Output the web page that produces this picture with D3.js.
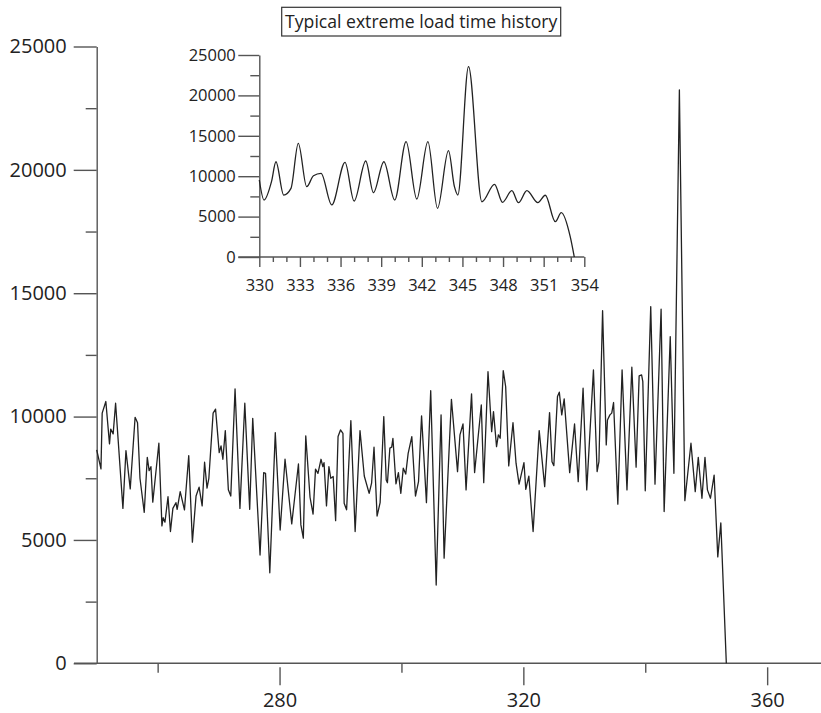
<!DOCTYPE html>
<html lang='en'>
<head>
  <meta charset='UTF-8'>
  <title>Typical extreme load time history</title>
  <style>
  body {
    margin: 0;
    background: #fff;
  }
  svg {
    display: block;
  }
  .axis {
    font-family: 'Open Sans', sans-serif;
  }
  .axis path, .axis line, .baseline {
    stroke: #555;
    stroke-width: 1.4px;
  }
  .axis text {
    fill: #222;
  }
  .main.axis text {
    font-size: 20px;
  }
  .inset.axis text {
    font-size: 16.5px;
  }
  .load {
    fill: none;
    stroke: #222;
    stroke-width: 1.3px;
    stroke-linejoin: round;
  }
  .title-box {
    fill: #fff;
    stroke: #333;
    stroke-width: 1.2px;
  }
  .title {
    font-family: 'Open Sans', sans-serif;
    font-size: 17.6px;
    fill: #222;
  }
  </style>
  <script src='https://d3js.org/d3.v7.min.js'></script>
</head>
<body>
  <script>

  // main time history (time, load)
  var mainTime = [
    250.0, 250.7, 250.9, 251.5, 252.1, 252.3, 252.7, 253.1, 254.3, 254.8,
    255.5, 256.3, 256.7, 257.1, 257.8, 258.3, 258.6, 258.9, 259.2, 260.2,
    260.7, 260.9, 261.2, 261.7, 262.1, 262.5, 263.0, 263.2, 263.7, 264.4,
    265.1, 265.7, 266.3, 266.8, 267.3, 267.7, 268.1, 268.4, 269.1, 269.5,
    270.1, 270.4, 270.7, 271.1, 271.6, 272.0, 272.7, 273.5, 274.3, 275.1,
    275.6, 276.8, 277.4, 277.7, 278.4, 279.3, 280.1, 280.9, 282.0, 283.1,
    283.5, 283.9, 284.3, 285.0, 285.5, 285.9, 286.3, 286.8, 287.1, 287.3,
    287.7, 288.1, 288.4, 288.8, 289.2, 289.6, 290.0, 290.4, 290.6, 291.0,
    291.7, 292.4, 293.2, 293.9, 294.7, 295.1, 295.5, 296.0, 296.5, 297.1,
    297.5, 297.7, 298.1, 298.4, 298.6, 299.1, 299.5, 299.9, 300.3, 300.7,
    301.1, 301.7, 302.3, 302.8, 303.3, 304.1, 304.8, 305.7, 306.5, 307.0,
    308.2, 309.2, 309.6, 310.1, 310.6, 311.5, 312.0, 313.1, 313.5, 314.2,
    314.8, 315.1, 315.6, 315.9, 316.2, 316.7, 317.1, 317.6, 318.3, 318.8,
    319.3, 320.1, 320.4, 320.9, 321.6, 322.6, 323.5, 324.3, 324.7, 325.0,
    325.6, 325.9, 326.3, 326.7, 327.6, 328.4, 329.0, 329.8, 330.4, 331.5,
    332.1, 332.4, 333.0, 333.6, 333.8, 334.2, 334.5, 334.8, 335.5, 336.2,
    337.0, 337.8, 338.5, 339.0, 339.4, 339.6, 340.0, 340.9, 341.6, 342.6,
    343.1, 344.1, 344.7, 345.6, 346.5, 347.5, 348.2, 348.7, 349.3, 349.8,
    350.2, 350.7, 351.3, 351.9, 352.4, 353.3
  ];
  var mainLoad = [
    8650, 7880, 10140, 10610, 8890, 9490, 9300, 10540, 6280, 8620,
    7070, 9970, 9750, 7500, 6120, 8350, 7810, 7970, 6530, 8920,
    5570, 5900, 5720, 6750, 5340, 6280, 6510, 6240, 6960, 6220,
    8420, 4910, 6780, 7140, 6380, 8150, 7100, 7500, 10140, 10300,
    8540, 8810, 8270, 9430, 7030, 6780, 11120, 6280, 10540, 6240,
    9930, 4390, 7730, 7700, 3670, 9350, 5400, 8270, 5650, 8080,
    5610, 5070, 9220, 6730, 6050, 7870, 7700, 8270, 7970, 8130,
    6380, 7970, 7500, 7570, 5780, 9190, 9460, 9320, 6490, 6220,
    9840, 5340, 9430, 7590, 6890, 7300, 8760, 5970, 6510, 10000,
    7430, 7320, 8720, 8760, 9120, 7270, 7730, 6890, 7910, 7670,
    8510, 9190, 6780, 7360, 10030, 6510, 11050, 3170, 10070, 4260,
    10700, 7770, 9260, 9700, 7030, 10920, 7730, 10470, 7320, 11820,
    9390, 10200, 8780, 9260, 9120, 11860, 11210, 8000, 9750, 8110,
    7260, 8130, 7050, 7590, 5340, 9430, 7160, 10160, 8170, 8010,
    10810, 10990, 10070, 10720, 7730, 9700, 7360, 11150, 7030, 11890,
    7770, 8170, 14290, 8850, 9860, 10070, 10140, 10570, 6450, 11890,
    7030, 12000, 7950, 11650, 11690, 11420, 6990, 14460, 7260, 14350,
    6150, 13240, 7700, 23240, 6590, 8920, 6960, 8350, 6690, 8350,
    7030, 6690, 7630, 4310, 5690, 0
  ];

  // inset: close-up of the end of the record
  var insetTime = [
    330.0, 330.35, 330.9, 331.23, 331.8, 332.34, 332.88, 333.5, 334.0, 334.56,
    335.35, 336.33, 337.0, 337.86, 338.43, 339.2, 340.0, 340.84, 341.63, 342.45,
    343.16, 343.97, 344.41, 344.66, 345.45, 346.44, 347.37, 347.96, 348.65, 349.14,
    349.76, 350.57, 351.12, 351.86, 352.3, 352.96, 353.26
  ];
  var insetLoad = [
    9530, 7050, 9320, 11790, 7670, 8500, 14070, 8700, 10060, 10360,
    6440, 11720, 6930, 11880, 7960, 11790, 7050, 14270, 7180, 14270,
    6030, 13160, 8700, 7670, 23550, 6840, 9000, 6770, 8210, 6720,
    8210, 6720, 7640, 4370, 5480, 2510, 0
  ];

  var mainXTicks = [280, 320, 360];
  var mainXMinor = [260, 300, 340];
  var loadTicks = [0, 5000, 10000, 15000, 20000, 25000];
  var loadMinor = [2500, 7500, 12500, 17500, 22500];
  var insetXTicks = [330, 333, 336, 339, 342, 345, 348, 351, 354];
  var insetXMinor = [331, 332, 334, 335, 337, 338, 340, 341, 343, 344, 346, 347, 349, 350, 352, 353];
  var insetTitle = 'Typical extreme load time history';

  var fmt = d3.format('d');

  var svg = d3.select('body').append('svg').attr('width', 821).attr('height', 713);

  // ---- main chart ----

  var x = d3.scaleLinear().domain([250, 370]).range([96.7, 828.1]);
  var y = d3.scaleLinear().domain([0, 25000]).range([663.3, 46.5]);

  svg.append('line')
    .attr('class', 'baseline')
    .attr('x1', 74).attr('x2', 821)
    .attr('y1', y(0)).attr('y2', y(0));

  var gx = svg.append('g')
    .attr('class', 'main axis')
    .attr('transform', 'translate(0,' + y(0) + ')')
    .call(d3.axisBottom(x).tickValues(mainXTicks).tickFormat(fmt).tickSize(22).tickSizeOuter(0));
  gx.select('.domain').remove();
  gx.selectAll('.tick line').attr('y1', 4);
  gx.selectAll('.tick text').attr('y', 43.3).attr('dy', null);

  var gxm = svg.append('g')
    .attr('class', 'main axis')
    .attr('transform', 'translate(0,' + y(0) + ')')
    .call(d3.axisBottom(x).tickValues(mainXMinor).tickSize(9.4).tickFormat(''));
  gxm.select('.domain').remove();

  svg.append('g')
    .attr('class', 'main axis')
    .attr('transform', 'translate(' + x(250) + ',0)')
    .call(d3.axisLeft(y).tickValues(loadTicks).tickFormat(fmt).tickSize(23).tickPadding(7).tickSizeOuter(0));

  var gym = svg.append('g')
    .attr('class', 'main axis')
    .attr('transform', 'translate(' + x(250) + ',0)')
    .call(d3.axisLeft(y).tickValues(loadMinor).tickSize(11).tickFormat(''));
  gym.select('.domain').remove();

  var mainLine = d3.line()
    .x(function (d, i) { return x(mainTime[i]); })
    .y(function (d) { return y(d); });

  svg.append('path').datum(mainLoad).attr('class', 'load').attr('d', mainLine);

  // ---- inset ----

  var xi = d3.scaleLinear().domain([330, 354]).range([259.3, 584.3]);
  var yi = d3.scaleLinear().domain([0, 25000]).range([257, 55]);

  svg.append('line')
    .attr('class', 'baseline')
    .attr('x1', 238.3).attr('x2', xi(354))
    .attr('y1', yi(0)).attr('y2', yi(0));

  var gix = svg.append('g')
    .attr('class', 'inset axis')
    .attr('transform', 'translate(0,' + yi(0) + ')')
    .call(d3.axisBottom(xi).tickValues(insetXTicks).tickFormat(fmt).tickSize(10).tickSizeOuter(0));
  gix.select('.domain').remove();
  gix.selectAll('.tick text').attr('y', 34).attr('dy', null);

  var gixm = svg.append('g')
    .attr('class', 'inset axis')
    .attr('transform', 'translate(0,' + yi(0) + ')')
    .call(d3.axisBottom(xi).tickValues(insetXMinor).tickSize(5).tickFormat(''));
  gixm.select('.domain').remove();

  svg.append('g')
    .attr('class', 'inset axis')
    .attr('transform', 'translate(' + xi(330) + ',0)')
    .call(d3.axisLeft(yi).tickValues(loadTicks).tickFormat(fmt).tickSize(21).tickPadding(2.5).tickSizeOuter(0));

  var giym = svg.append('g')
    .attr('class', 'inset axis')
    .attr('transform', 'translate(' + xi(330) + ',0)')
    .call(d3.axisLeft(yi).tickValues(loadMinor).tickSize(9).tickFormat(''));
  giym.select('.domain').remove();

  var insetLine = d3.line()
    .curve(d3.curveMonotoneX)
    .x(function (d, i) { return xi(insetTime[i]); })
    .y(function (d) { return yi(d); });

  svg.append('path').datum(insetLoad).attr('class', 'load').attr('d', insetLine);

  // boxed title above the inset
  svg.append('rect')
    .attr('class', 'title-box')
    .attr('x', 281.7).attr('y', 7.3)
    .attr('width', 279).attr('height', 28.7);

  svg.append('text')
    .attr('class', 'title')
    .attr('x', 421.2).attr('y', 28)
    .attr('text-anchor', 'middle')
    .text(insetTitle);
  </script>
</body>
</html>
